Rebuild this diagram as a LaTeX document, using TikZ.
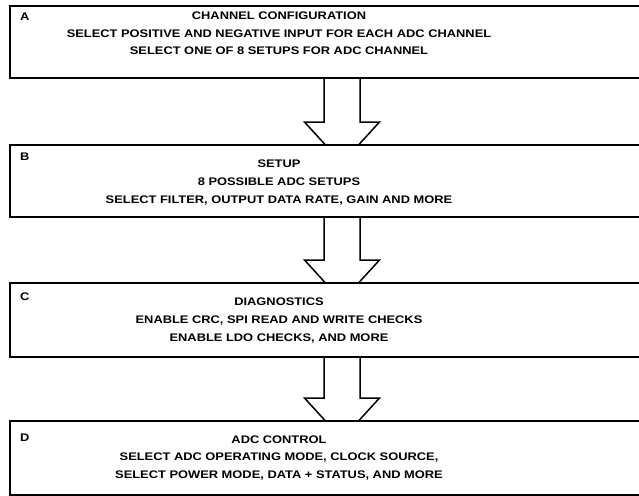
\documentclass[tikz,border=0pt]{standalone}
\usepackage{fontspec}
\setmainfont{Liberation Sans}[FakeStretch=1.17]
\usepackage{tikz}
\usetikzlibrary{
	positioning,
	calc
}

\begin{document}
\begin{tikzpicture}[x=1pt,y=1pt,
	block/.style={draw,line width=1.5pt,outer sep=0pt,inner sep=0pt,minimum width=664pt},
	tag/.style={anchor=north west,inner sep=0pt,font=\bfseries\fontsize{11}{12}\selectfont},
	body/.style={align=center,inner sep=0pt,font=\bfseries\fontsize{11}{17.7}\selectfont},
	fat/.style={line width=1.5pt,line join=miter}]
			
			\useasboundingbox (0,-495) rectangle (639,0);
			
			\node[block,minimum height=72pt] (a) at (342,-42) {};
			\node[block,minimum height=72pt,below=67pt of a] (b) {};
			\node[block,minimum height=74pt,below=66pt of b] (c) {};
			\node[block,minimum height=74pt,below=64pt of c] (d) {};
			
			\node[tag] (ta) at ([shift={(10pt,-7pt)}]a.north west) {A};
			\node[tag] (tb) at ([shift={(10pt,-8pt)}]b.north west) {B};
			\node[tag] (tc) at ([shift={(10pt,-10pt)}]c.north west) {C};
			\node[tag] (td) at ([shift={(10pt,-13pt)}]d.north west) {D};
			
			\node[body] (xa) at ([shift={(-63pt,8.5pt)}]a.center)
			{CHANNEL CONFIGURATION\\SELECT POSITIVE AND NEGATIVE INPUT FOR EACH ADC CHANNEL\\SELECT ONE OF 8 SETUPS FOR ADC CHANNEL};
			\node[body] (xb) at ([shift={(-63pt,-1.5pt)}]b.center)
			{SETUP\\8 POSSIBLE ADC SETUPS\\SELECT FILTER, OUTPUT DATA RATE, GAIN AND MORE};
			\node[body] (xc) at ([shift={(-63pt,-0.5pt)}]c.center)
			{DIAGNOSTICS\\ENABLE CRC, SPI READ AND WRITE CHECKS\\ENABLE LDO CHECKS, AND MORE};
			\node[body] (xd) at ([xshift=-63pt]d.center)
			{ADC CONTROL\\SELECT ADC OPERATING MODE, CLOCK SOURCE,\\SELECT POWER MODE, DATA + STATUS, AND MORE};
			
			\foreach \u/\v in {a/b,b/c,c/d}{
				\draw[fat] ([xshift=-18pt]\u.south) -- ([shift={(-18pt,23pt)}]\v.north)
				-- ([shift={(-37.5pt,23pt)}]\v.north) -- ([xshift=-16.5pt]\v.north);
				\draw[fat] ([xshift=18pt]\u.south) -- ([shift={(18pt,23pt)}]\v.north)
				-- ([shift={(37.5pt,23pt)}]\v.north) -- ([xshift=16.5pt]\v.north);
			}
			
		\end{tikzpicture}
\end{document}
